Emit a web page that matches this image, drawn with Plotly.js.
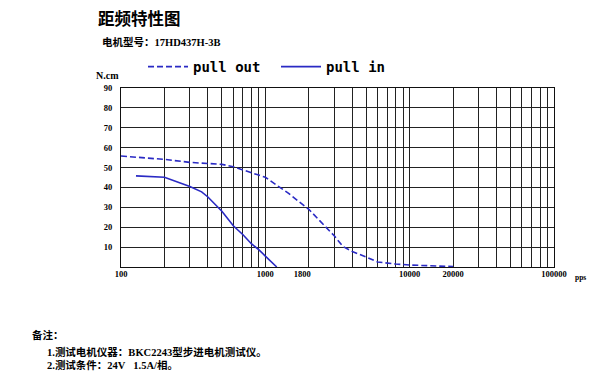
<!DOCTYPE html>
<html><head><meta charset="utf-8">
<script src="https://cdn.plot.ly/plotly-3.0.1.min.js"></script>
<style>body{margin:0;background:#fff}#chart{width:600px;height:381px}</style>
</head><body><div id="chart"></div>
<script>
// ---- data ----
const pullOutFreq = [100,200,300,400,500,600,700,800,900,1000,1200,1450,2000,2500,3000,3450,4000,5000,6000,8000,10000,20000];
const pullOutTorque = [55.8,54.1,52.6,52.1,51.6,50.4,48.7,47.1,46.2,45.1,41,37,29,21.5,15.7,10.3,7.8,5,2.5,1.5,1,0.2];
const pullInFreq = [127,200,300,362,400,500,600,700,800,900,1000,1200];
const pullInTorque = [45.8,45.1,40.5,37.8,35.2,28,20.7,16.2,11.7,8.7,5.5,0];
const gridFreq = [100,200,300,400,500,600,700,800,900,
                  1000,2000,3000,4000,5000,6000,7000,8000,9000,
                  10000,20000,30000,40000,50000,60000,70000,80000,90000,100000];
const xTickVals = [100,1000,1800,10000,20000,100000];
const xTickText = ['100','1000','1800','10000','20000','100000'];
const yTickVals = [10,20,30,40,50,60,70,80,90];
const yTickText = ['10','20','30','40','50','60','70','80','90'];
const seriesNames = ['pull out','pull in'];
const titleText = '距频特性图';
const subtitleText = '电机型号：17HD437H-3B';
const noteHead = '备注：';
const note1 = '1.测试电机仪器：BKC2243型步进电机测试仪。';
const note2 = '2.测试条件：24V&nbsp;&nbsp;&nbsp;1.5A/相。';
const yUnit = 'N.cm';
const xUnit = 'pps';

// ---- layout helpers ----
const W = 600, H = 381, L = 121, R = 46, T = 88, B = 114;
const pw = W - L - R, ph = H - T - B;
const px = x => (x - L) / pw;
const py = y => (H - B - y) / ph;
const blue = '#2a2ac4';
const lblFont = {family: 'Liberation Serif, Noto Sans CJK SC', size: 8.5, color: '#000', weight: 'bold'};
const cjkFont = {family: 'Liberation Serif, Noto Sans CJK SC', size: 10.5, color: '#000', weight: 'bold'};

const traces = [
  {x: pullOutFreq, y: pullOutTorque, name: seriesNames[0], mode: 'lines',
   line: {color: blue, width: 1.6, dash: '6px,3px'}},
  {x: pullInFreq, y: pullInTorque, name: seriesNames[1], mode: 'lines',
   line: {color: blue, width: 1.6}},
  {x: [xTickVals[0]], y: [0], xaxis: 'x2', mode: 'markers', marker: {opacity: 0},
   showlegend: false, hoverinfo: 'skip'}
];

const layout = {
  width: W, height: H,
  margin: {l: L, r: R, t: T, b: B, pad: 0},
  paper_bgcolor: '#fff', plot_bgcolor: '#fff',
  title: {text: titleText, x: 98 / W, xanchor: 'left', xref: 'container',
          y: 1 - 19 / H, yanchor: 'middle', yref: 'container',
          font: {family: 'Noto Sans CJK SC', size: 16.5, color: '#000', weight: 'bold'}},
  xaxis: {type: 'log', range: [2, 5], tickmode: 'array', tickvals: gridFreq,
          showticklabels: false, ticks: '', showgrid: true, gridcolor: '#222', gridwidth: 1,
          showline: true, mirror: true, linecolor: '#111', linewidth: 1, zeroline: false},
  xaxis2: {type: 'log', range: [2, 5], overlaying: 'x', anchor: 'y', side: 'bottom',
           tickmode: 'array', tickvals: xTickVals, ticktext: xTickText, ticks: '',
           showgrid: false, showline: false, zeroline: false, tickfont: lblFont},
  yaxis: {range: [0, 90], tickmode: 'array', tickvals: yTickVals, ticktext: yTickText,
          ticks: '', ticklabelstandoff: 6, showgrid: true, gridcolor: '#222', gridwidth: 1,
          showline: true, mirror: true, linecolor: '#111', linewidth: 1, zeroline: false,
          tickfont: lblFont},
  showlegend: true,
  legend: {orientation: 'h', x: px(143), xanchor: 'left', y: py(67), yanchor: 'middle',
           font: {family: 'DejaVu Sans Mono', size: 14, color: '#000', weight: 'bold'},
           bgcolor: 'rgba(0,0,0,0)', entrywidth: 78, itemwidth: 40, tracegroupgap: 0},
  annotations: [
    {text: subtitleText, xref: 'paper', yref: 'paper', x: px(100), y: py(42),
     xanchor: 'left', yanchor: 'middle', showarrow: false, font: cjkFont},
    {text: yUnit, xref: 'paper', yref: 'paper', x: px(107), y: py(75),
     xanchor: 'center', yanchor: 'middle', showarrow: false, font: {...lblFont, size: 10}},
    {text: xUnit, xref: 'paper', yref: 'paper', x: px(580), y: py(277),
     xanchor: 'center', yanchor: 'middle', showarrow: false, font: {...lblFont, size: 7.5}},
    {text: noteHead, xref: 'paper', yref: 'paper', x: px(30), y: py(335),
     xanchor: 'left', yanchor: 'middle', showarrow: false, font: cjkFont},
    {text: note1, xref: 'paper', yref: 'paper', x: px(45), y: py(351.5),
     xanchor: 'left', yanchor: 'middle', showarrow: false, font: cjkFont},
    {text: note2, xref: 'paper', yref: 'paper', x: px(45), y: py(365),
     xanchor: 'left', yanchor: 'middle', showarrow: false, font: cjkFont}
  ]
};

Plotly.newPlot('chart', traces, layout, {displayModeBar: false, staticPlot: true});
</script>
</body></html>
